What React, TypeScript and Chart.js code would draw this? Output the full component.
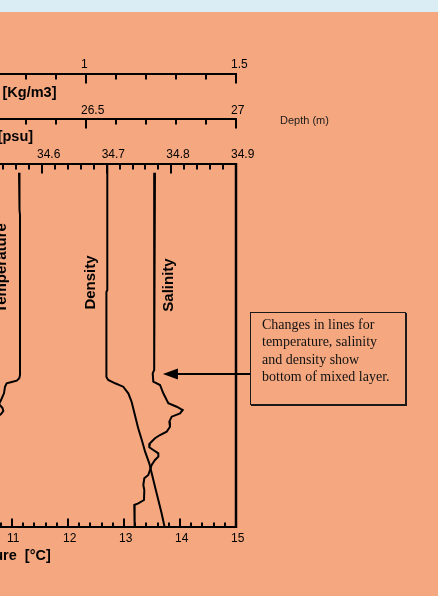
import React, { useEffect, useRef } from 'react';
import { Chart, registerables } from 'chart.js';

Chart.register(...registerables);

// ---- data (depth in m, values read from the profile) ----
const TEMP_DEPTH = [2.4, 12.67, 14.05, 58.13, 59.04, 59.7, 60.06, 60.41, 61.35, 63.17, 65.01, 66.12, 67.22, 68.04, 68.87, 69.7, 71.9, 76.03, 81.54, 89.81, 100];
const TEMP_VALUES = [11.125, 11.134, 11.143, 11.143, 11.13, 11.084, 10.995, 10.905, 10.875, 10.857, 10.804, 10.768, 10.83, 10.845, 10.804, 10.732, 10.57, 10.34, 10.11, 9.89, 9.78];

const DENSITY_DEPTH = [0.28, 34.71, 35.26, 58.68, 59.5, 60.41, 61.35, 63.17, 65.48, 69.15, 72.81, 76.03, 79.26, 82.45, 85.21, 88.9, 92.56, 96.23, 100];
const DENSITY_VALUES = [26.571, 26.571, 26.568, 26.568, 26.574, 26.597, 26.624, 26.641, 26.652, 26.663, 26.674, 26.686, 26.697, 26.711, 26.719, 26.73, 26.741, 26.752, 26.762];

const SALINITY_DEPTH = [2.4, 12.67, 13.5, 56.75, 57.66, 59.97, 60.88, 63.17, 65.92, 66.86, 67.77, 68.68, 69.61, 70.99, 72.37, 73.75, 74.66, 75.56, 76.94, 78.04, 78.79, 79.7, 80.63, 81.54, 82.92, 84.3, 85.67, 86.58, 88.43, 89.81, 92.56, 93.47, 93.94, 97.16, 100];
const SALINITY_VALUES = [34.7747, 34.774, 34.7732, 34.7732, 34.7712, 34.7721, 34.7825, 34.7876, 34.7953, 34.8083, 34.8176, 34.8134, 34.8006, 34.7969, 34.7979, 34.7928, 34.7825, 34.7747, 34.767, 34.7659, 34.7721, 34.7799, 34.7799, 34.7747, 34.7696, 34.767, 34.7644, 34.7582, 34.7567, 34.7582, 34.7577, 34.7489, 34.7427, 34.7427, 34.7438];

// ---- axes ----
const DEPTH_RANGE = [0, 100];
const TEMP_RANGE = [9.5357, 15];
const SALINITY_RANGE = [34.4268, 34.9];
const DENSITY_RANGE = [25.98, 27];
const UPPER_RANGE = [0.48, 1.5];

const TEMP_TICKS = [10, 11, 12, 13, 14, 15];
const SALINITY_TICKS = [34.5, 34.6, 34.7, 34.8, 34.9];
const DENSITY_TICKS = [26, 26.5, 27];
const UPPER_TICKS = [0.5, 1, 1.5];

const TEMP_MINOR_STEP = 0.2;
const SALINITY_MINOR_STEP = 0.02;
const DENSITY_MINOR_STEP = 0.1;
const UPPER_MINOR_STEP = 0.1;

const NOTE_LINES = ['Changes in lines for', 'temperature, salinity', 'and density show', 'bottom of mixed layer.'];

const SANS = "'Liberation Sans', Arial, sans-serif";

const MINOR_STEPS: Record<string, number> = {
  xT: TEMP_MINOR_STEP,
  xS: SALINITY_MINOR_STEP,
  xD: DENSITY_MINOR_STEP,
  xU: UPPER_MINOR_STEP,
};

const tickPlugin = {
  id: 'profileTicks',
  afterDraw(chart: any) {
    const ctx = chart.ctx;
    const area = chart.chartArea;
    ctx.save();
    ctx.strokeStyle = '#000';
    ctx.lineCap = 'butt';
    ctx.lineWidth = 2;
    for (const id of Object.keys(MINOR_STEPS)) {
      const s = chart.scales[id];
      const step = MINOR_STEPS[id];
      const majors = s.ticks.map((t: any) => t.value);
      const isTop = s.options.position === 'top';
      const y0 = isTop ? s.bottom : s.top;
      const n0 = Math.ceil(s.min / step - 1e-6);
      const n1 = Math.floor(s.max / step + 1e-6);
      for (let n = n0; n <= n1; n++) {
        const v = n * step;
        const major = majors.some((m: number) => Math.abs(m - v) < step / 10);
        const len = isTop ? (major ? 9.5 : 5.5) : (major ? 8.5 : 4.5);
        const x = Math.round(s.getPixelForValue(v));
        ctx.beginPath();
        ctx.moveTo(x, y0);
        ctx.lineTo(x, isTop ? y0 + len : y0 - len);
        ctx.stroke();
      }
    }
    // right frame of the plot
    ctx.lineWidth = 2.5;
    ctx.beginPath();
    ctx.moveTo(area.right, area.top - 1);
    ctx.lineTo(area.right, area.bottom + 1);
    ctx.stroke();
    ctx.restore();
  },
};

const notePlugin = {
  id: 'profileNotes',
  afterDatasetsDraw(chart: any) {
    const ctx = chart.ctx;
    const y = chart.scales.y;
    const area = chart.chartArea;
    const labels = [
      { text: 'Temperature', scale: 'xT', value: 10.827, depth: 28.65 },
      { text: 'Density', scale: 'xD', value: 26.517, depth: 32.64 },
      { text: 'Salinity', scale: 'xS', value: 34.7956, depth: 33.33 },
    ];
    ctx.save();
    ctx.fillStyle = '#000';
    ctx.font = `bold 15px ${SANS}`;
    ctx.textAlign = 'center';
    ctx.textBaseline = 'middle';
    for (const l of labels) {
      const px = chart.scales[l.scale].getPixelForValue(l.value);
      const py = y.getPixelForValue(l.depth);
      ctx.save();
      ctx.translate(px, py);
      ctx.rotate(-Math.PI / 2);
      ctx.fillText(l.text, 0, 0);
      ctx.restore();
    }
    // arrow pointing at the bottom of the mixed layer
    const tx = chart.scales.xS.getPixelForValue(34.787);
    const ty = Math.round(y.getPixelForValue(57.85));
    const tail = area.right + 14;
    ctx.strokeStyle = '#000';
    ctx.lineWidth = 2;
    ctx.beginPath();
    ctx.moveTo(tx + 12, ty);
    ctx.lineTo(tail, ty);
    ctx.stroke();
    ctx.beginPath();
    ctx.moveTo(tx, ty);
    ctx.lineTo(tx + 15, ty - 5.5);
    ctx.lineTo(tx + 15, ty + 5.5);
    ctx.closePath();
    ctx.fill();
    ctx.restore();
  },
};

function makeSeries(depths: number[], values: number[]) {
  return depths.map((d, i) => ({ x: values[i], y: d }));
}

const fmt = (v: number | string) => String(Number(Number(v).toFixed(2)));

export default function App() {
  const ref = useRef<HTMLCanvasElement | null>(null);

  useEffect(() => {
    if (!ref.current) return;
    Chart.defaults.font.family = SANS;
    const lineStyle = {
      borderColor: '#000',
      borderWidth: 2,
      pointRadius: 0,
      tension: 0,
      fill: false,
      yAxisID: 'y',
    };
    const axisBase = (range: number[], ticks: number[], pos: string, weight: number, pad: number) => ({
      type: 'linear',
      axis: 'x',
      position: pos,
      weight,
      min: range[0],
      max: range[1],
      grid: { display: false, drawTicks: false, drawOnChartArea: false },
      border: { display: true, color: '#000', width: 2 },
      afterBuildTicks: (s: any) => {
        s.ticks = ticks.map((v) => ({ value: v }));
      },
      ticks: {
        autoSkip: false,
        maxRotation: 0,
        minRotation: 0,
        align: 'start',
        labelOffset: -5,
        padding: pad,
        color: '#000',
        font: { size: 12, family: SANS },
        callback: (v: any) => fmt(v),
      },
    });

    const chart = new Chart(ref.current, {
      type: 'line',
      data: {
        datasets: [
          { ...lineStyle, label: 'Temperature', xAxisID: 'xT', data: makeSeries(TEMP_DEPTH, TEMP_VALUES) },
          { ...lineStyle, label: 'Density', xAxisID: 'xD', data: makeSeries(DENSITY_DEPTH, DENSITY_VALUES) },
          { ...lineStyle, label: 'Salinity', xAxisID: 'xS', data: makeSeries(SALINITY_DEPTH, SALINITY_VALUES) },
        ] as any,
      },
      options: {
        animation: false,
        responsive: false,
        indexAxis: 'y',
        layout: { padding: { left: 0, right: 202, top: 29, bottom: 29 } },
        plugins: { legend: { display: false }, tooltip: { enabled: false }, title: { display: false } },
        scales: {
          y: { type: 'linear', min: DEPTH_RANGE[0], max: DEPTH_RANGE[1], reverse: true, display: false },
          xT: {
            ...axisBase(TEMP_RANGE, TEMP_TICKS, 'bottom', 0, 4),
            afterFit: (s: any) => { s.height = 40; },
            title: {
              display: true,
              text: 'Temperature  [°C]',
              align: 'start',
              color: '#000',
              font: { size: 14.5, weight: 'bold', family: SANS },
              padding: { top: 0, bottom: 2.3 },
            },
          },
          xS: {
            ...axisBase(SALINITY_RANGE, SALINITY_TICKS, 'top', 0, 1.8),
            afterFit: (s: any) => { s.height = 45; },
            title: {
              display: true,
              text: 'Salinity    [psu]',
              align: 'start',
              color: '#000',
              font: { size: 14.5, weight: 'bold', family: SANS },
              padding: { top: 9.6, bottom: 0 },
            },
          },
          xD: {
            ...axisBase(DENSITY_RANGE, DENSITY_TICKS, 'top', 1, 1.0),
            afterFit: (s: any) => { s.height = 45; },
            title: {
              display: true,
              text: 'Density     [Kg/m3]',
              align: 'start',
              color: '#000',
              font: { size: 14.5, weight: 'bold', family: SANS },
              padding: { top: 10.3, bottom: 0 },
            },
          },
          xU: {
            ...axisBase(UPPER_RANGE, UPPER_TICKS, 'top', 2, 2.1),
            afterFit: (s: any) => { s.height = 45; },
            title: { display: false },
          },
        } as any,
      },
      plugins: [tickPlugin, notePlugin],
    } as any);
    return () => chart.destroy();
  }, []);

  return (
    <div style={{ position: 'fixed', left: 0, top: 0, width: 438, height: 596, overflow: 'hidden', background: '#F5A880' }}>
      <div style={{ position: 'absolute', left: 0, top: 0, width: 438, height: 12, background: '#DAEDF4' }} />
      <canvas
        ref={ref}
        width={508}
        height={596}
        style={{ position: 'absolute', left: -70, top: 0, width: 508, height: 596 }}
      />
      <div
        style={{
          position: 'absolute', left: 280, top: 114, font: `11px ${SANS}`, lineHeight: '12px',
          color: '#1a1a1a', whiteSpace: 'nowrap',
        }}
      >
        Depth (m)
      </div>
      <div
        style={{
          position: 'absolute', left: 250, top: 312, width: 156, height: 93, boxSizing: 'border-box',
          border: '1px solid #1a1a1a', boxShadow: '1px 1px 0 #1a1a1a', padding: '3px 0 0 11px',
          font: "14px 'Liberation Serif', 'Times New Roman', serif", lineHeight: '17.3px', color: '#111',
          whiteSpace: 'nowrap',
        }}
      >
        {NOTE_LINES.map((l, i) => (
          <div key={i}>{l}</div>
        ))}
      </div>
    </div>
  );
}
